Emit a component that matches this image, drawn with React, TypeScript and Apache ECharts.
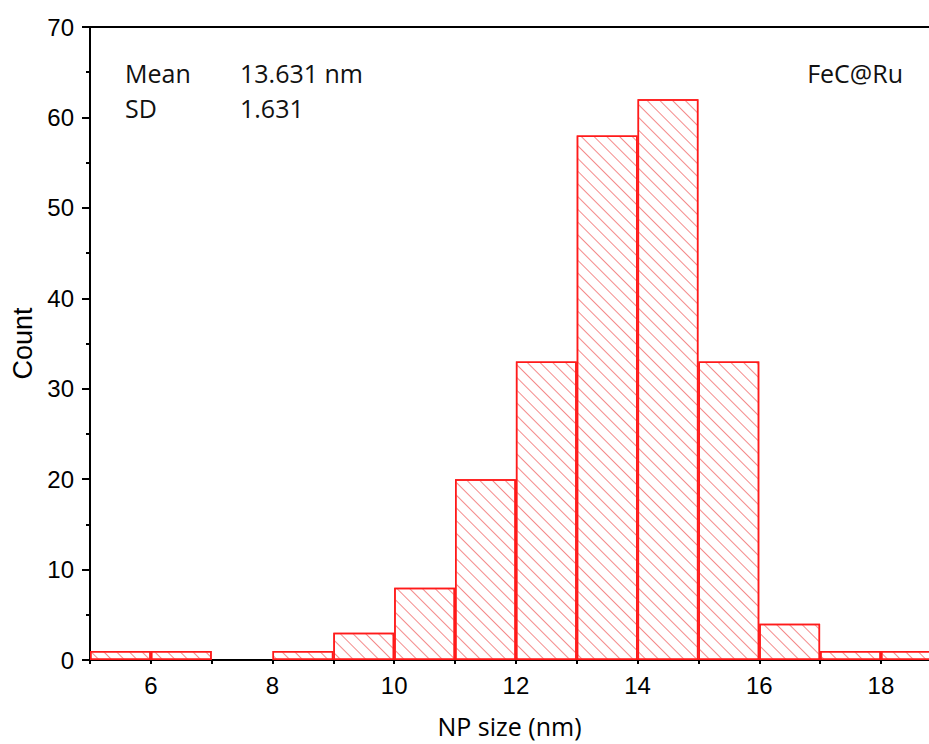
import React, { useEffect, useRef } from 'react';
import * as echarts from 'echarts';

// Histogram bins (bin width = 1 nm), given by bin centre
const binCenters = [5.5, 6.5, 8.5, 9.5, 10.5, 11.5, 12.5, 13.5, 14.5, 15.5, 16.5, 17.5, 18.5];
const counts = [1, 1, 1, 3, 8, 20, 33, 58, 62, 33, 4, 1, 1];
const xTickLabels = [6, 8, 10, 12, 14, 16, 18];
const statNames = ['Mean', 'SD'];
const statValues = ['13.631 nm', '1.631'];
const sampleLabel = 'FeC@Ru';

export default function App() {
  const ref = useRef<HTMLDivElement>(null);
  useEffect(() => {
    const chart = echarts.init(ref.current!, null, { renderer: 'svg' });
    const axisFont = "'Liberation Sans', Arial, sans-serif";
    const textFont = "'Open Sans', sans-serif";
    const data = binCenters.map((c, i) => [c, counts[i]]);
    chart.setOption({
      animation: false,
      grid: { left: 90, right: 0, top: 27, bottom: 84, containLabel: false, outerBoundsMode: 'none' },
      xAxis: [
        {
          type: 'value',
          min: 5,
          max: 18.79,
          interval: 1,
          position: 'bottom',
          splitLine: { show: false },
          axisLine: { show: true, onZero: false, lineStyle: { color: '#000', width: 2 } },
          axisTick: { show: true, inside: false, length: 4, lineStyle: { color: '#000', width: 2 } },
          axisLabel: {
            show: true,
            margin: 13,
            fontFamily: axisFont,
            fontSize: 24,
            color: '#000',
            showMaxLabel: false,
            formatter: (v: number) => (xTickLabels.indexOf(v) >= 0 ? String(v) : ''),
          },
          name: 'NP size (nm)',
          nameLocation: 'middle',
          nameGap: 53,
          nameTextStyle: { fontFamily: textFont, fontSize: 25, color: '#000' },
        },
        {
          type: 'value',
          min: 5,
          max: 18.79,
          position: 'top',
          splitLine: { show: false },
          axisLine: { show: true, onZero: false, lineStyle: { color: '#000', width: 2 } },
          axisTick: { show: false },
          axisLabel: { show: false },
        },
      ],
      yAxis: {
        type: 'value',
        min: 0,
        max: 70,
        interval: 10,
        splitLine: { show: false },
        axisLine: { show: true, lineStyle: { color: '#000', width: 2 } },
        axisTick: { show: true, length: 8, lineStyle: { color: '#000', width: 2 } },
        minorTick: { show: true, splitNumber: 2, length: 4, lineStyle: { color: '#000', width: 2 } },
        axisLabel: { margin: 16, fontFamily: axisFont, fontSize: 24, color: '#000' },
        name: 'Count',
        nameLocation: 'middle',
        nameGap: 54,
        nameTextStyle: { fontFamily: axisFont, fontSize: 27, color: '#000' },
      },
      series: [
        {
          type: 'bar',
          xAxisIndex: 0,
          data,
          barCategoryGap: '0%',
          barGap: '0%',
          itemStyle: {
            color: '#ffffff',
            borderColor: '#ff1a1a',
            borderWidth: 1.5,
            decal: {
              symbol: 'rect',
              symbolSize: 1,
              dashArrayX: [1, 0],
              dashArrayY: [1, 7.5],
              rotation: Math.PI / 4,
              color: 'rgba(240, 90, 90, 0.7)',
            },
          },
        },
      ],
      graphic: [
        {
          type: 'text',
          x: 125,
          y: 73,
          style: { text: statNames[0], font: `25px ${textFont}`, fill: '#111', verticalAlign: 'middle' },
        },
        {
          type: 'text',
          x: 240,
          y: 73,
          style: { text: statValues[0], font: `25px ${textFont}`, fill: '#111', verticalAlign: 'middle' },
        },
        {
          type: 'text',
          x: 125,
          y: 108,
          style: { text: statNames[1], font: `25px ${textFont}`, fill: '#111', verticalAlign: 'middle' },
        },
        {
          type: 'text',
          x: 240,
          y: 108,
          style: { text: statValues[1], font: `25px ${textFont}`, fill: '#111', verticalAlign: 'middle' },
        },
        {
          type: 'text',
          x: 903,
          y: 73,
          style: { text: sampleLabel, font: `25px ${textFont}`, fill: '#111', verticalAlign: 'middle', align: 'right' },
        },
      ],
    });
    return () => chart.dispose();
  }, []);
  return (
    <div
      ref={ref}
      style={{ position: 'fixed', left: 0, top: 0, width: 929, height: 744, background: '#fff' }}
    />
  );
}
